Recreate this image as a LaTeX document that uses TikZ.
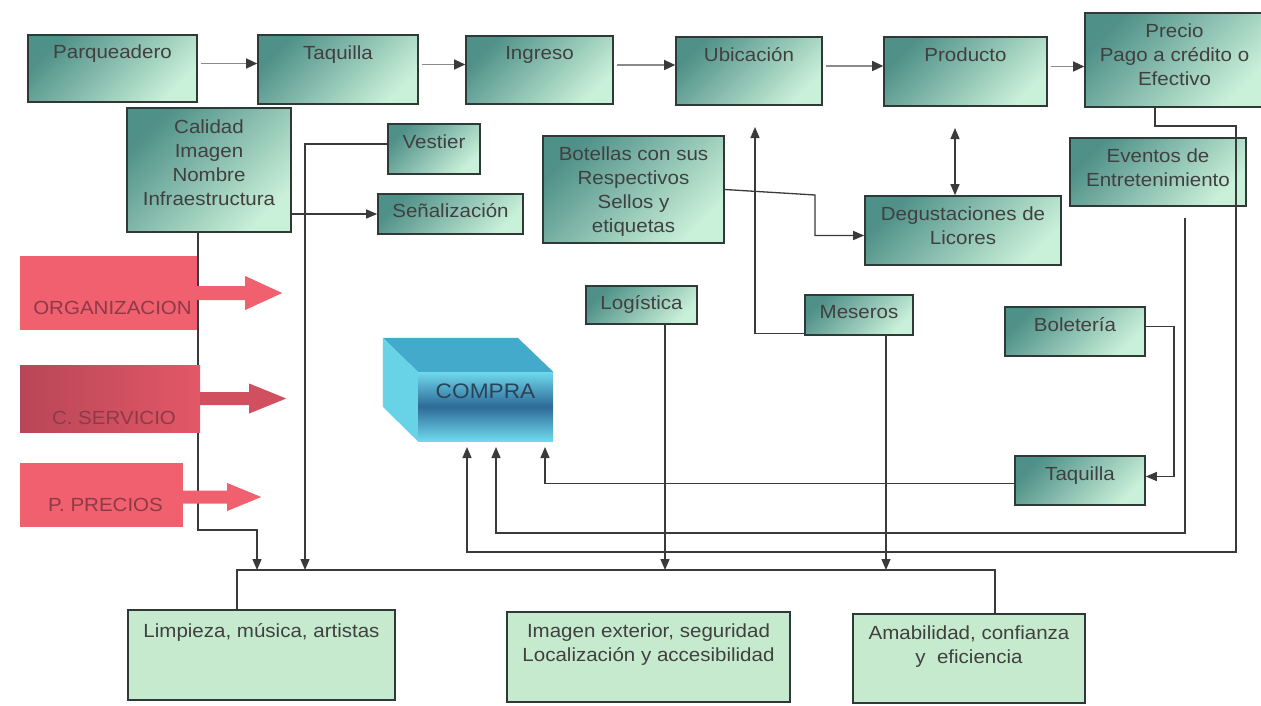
\documentclass[tikz,border=0pt]{standalone}
\usepackage{fontspec}
\setmainfont{Liberation Sans}[FakeStretch=1.08]
\usetikzlibrary{arrows.meta}

\definecolor{gdark}{HTML}{4F9088}
\definecolor{glight}{HTML}{C9F0D9}
\definecolor{gflat}{HTML}{C6EACE}
\definecolor{boxline}{HTML}{2F3A37}
\definecolor{txt}{HTML}{404040}
\definecolor{wire}{HTML}{3A3A3A}
\definecolor{wirelight}{HTML}{8A8A8A}
\definecolor{redA}{HTML}{F0606F}
\definecolor{redB}{HTML}{B84656}
\definecolor{redC}{HTML}{E25868}
\definecolor{redD}{HTML}{D0505F}
\definecolor{redtxt}{HTML}{8E3A46}
\definecolor{cyanL}{HTML}{6FD9EC}
\definecolor{cyanS}{HTML}{68D2E6}
\definecolor{cyanT}{HTML}{43AACB}
\definecolor{blueD}{HTML}{2D6A98}
\definecolor{comptxt}{HTML}{2B4258}

\newcommand\boxfont{\fontsize{19}{24}\selectfont}
\newcommand\comprafont{\fontsize{21}{25}\selectfont}

\begin{document}
\begin{tikzpicture}[x=1pt, y=-1pt,
  gbox/.style={draw=boxline, line width=1.6pt, top color=gdark, bottom color=glight,
    shading angle=45, inner sep=0pt},
  fbox/.style={draw=boxline, line width=1.4pt, fill=gflat, inner sep=0pt},
  boxcap/.style={anchor=north, yshift=-11pt, inner sep=0pt, align=center, font=\boxfont, text=txt},
  redcap/.style={anchor=south, inner sep=0pt, font=\boxfont, text=redtxt},
  con/.style={draw=wire, line width=1.3pt, -{Triangle[length=11pt, width=9pt, color=wire]}},
  dcon/.style={draw=wire, line width=1.3pt,
    {Triangle[length=11pt, width=9pt, color=wire]}-{Triangle[length=11pt, width=9pt, color=wire]}},
  wireplain/.style={draw=wire, line width=1.3pt},
  rowarrow/.style={draw=wirelight, line width=1.3pt, shorten <=3pt,
    -{Triangle[length=11pt, width=10pt, color=wire]}},
  compra/.style={top color=cyanL, bottom color=cyanL, middle color=blueD, inner sep=0pt}
]
\useasboundingbox (0,0) rectangle (1261,705);
\clip (0,0) rectangle (1261,705);
\fill[white] (0,0) rectangle (1261,705);

% bend points and free ends
\coordinate (calx) at (198,530);
\coordinate (a1) at (257,570);
\coordinate (a2) at (305,570);
\coordinate (a3) at (665,570);
\coordinate (a4) at (886,570);
\coordinate (busL) at (237,570);
\coordinate (busR) at (995,570);
\coordinate (mup) at (755,127);
\coordinate (pdn) at (955,128);
\coordinate (b2) at (815,195);
\coordinate (bq) at (1174,400);
\coordinate (ev2) at (1185,533);
\coordinate (pcx) at (1155,126);
\coordinate (pcr) at (1236,126);
\coordinate (pcb) at (1236,552);
\coordinate (cp1) at (467,447);
\coordinate (cp2) at (496,447);
\coordinate (cp3) at (545,447);

% top row
\node[gbox, minimum width=169pt, minimum height=67pt, label={[boxcap, yshift=1pt]north:Parqueadero}] (park) at (112.5,68.5) {};
\node[gbox, minimum width=160pt, minimum height=69pt, label={[boxcap]north:Taquilla}] (taq1) at (338,69.5) {};
\node[gbox, minimum width=147pt, minimum height=68pt, label={[boxcap]north:Ingreso}] (ing) at (539.5,70) {};
\node[gbox, minimum width=146pt, minimum height=68pt, label={[boxcap]north:Ubicación}] (ubi) at (749,71) {};
\node[gbox, minimum width=163pt, minimum height=69pt, label={[boxcap]north:Producto}] (prod) at (965.5,71.5) {};
\node[gbox, minimum width=177pt, minimum height=94pt,
  label={[boxcap, xshift=1pt]north:{Precio\\Pago a crédito o\\Efectivo}}] (pc) at (1173.5,60) {};

% second tier
\node[gbox, minimum width=164pt, minimum height=124pt,
  label={[boxcap, yshift=-1pt]north:{Calidad\\Imagen\\Nombre\\Infraestructura}}] (cal) at (209,170) {};
\node[gbox, minimum width=92pt, minimum height=50pt, label={[boxcap]north:Vestier}] (ves) at (434,149) {};
\node[gbox, minimum width=145pt, minimum height=40pt, label={[boxcap, yshift=1pt]north:Señalización}] (sen) at (450.5,214) {};
\node[gbox, minimum width=181pt, minimum height=107pt,
  label={[boxcap]north:{Botellas con sus\\Respectivos\\Sellos y\\etiquetas}}] (bot) at (633.5,189.5) {};
\node[gbox, minimum width=196pt, minimum height=69pt,
  label={[boxcap]north:{Degustaciones de\\Licores}}] (deg) at (963,230.5) {};
\node[gbox, minimum width=176pt, minimum height=68pt,
  label={[boxcap]north:{Eventos de\\Entretenimiento}}] (eve) at (1158,172) {};
\node[gbox, minimum width=111pt, minimum height=38pt, label={[boxcap, yshift=1pt]north:Logística}] (log) at (641.5,305) {};
\node[gbox, minimum width=108pt, minimum height=40pt, label={[boxcap]north:Meseros}] (mes) at (859,315) {};
\node[gbox, minimum width=140pt, minimum height=49pt, label={[boxcap]north:Boletería}] (bol) at (1075,331.5) {};
\node[gbox, minimum width=130pt, minimum height=49pt, label={[boxcap]north:Taquilla}] (taq2) at (1080,480.5) {};

% bottom row
\node[fbox, minimum width=267pt, minimum height=90pt,
  label={[boxcap, yshift=-3pt]north:{Limpieza, música, artistas}}] (lim) at (261.5,655) {};
\node[fbox, minimum width=283pt, minimum height=90pt,
  label={[boxcap, yshift=-1pt]north:{Imagen exterior, seguridad\\Localización y accesibilidad}}] (img) at (648.5,657) {};
\node[fbox, minimum width=232pt, minimum height=89pt,
  label={[boxcap, yshift=-1pt]north:{Amabilidad, confianza\\y\ \ eficiencia}}] (ama) at (969,658.5) {};

% trunk from Calidad (runs behind the red blocks)
\draw[con] (cal.south -| calx) -- (calx) -| (a1);

% red blocks with their block arrows
\node[fill=redA, inner sep=0pt, minimum width=177pt, minimum height=74pt,
  label={[redcap, yshift=15pt, xshift=4pt]south:ORGANIZACION}] (org) at (108.5,293) {};
\node[left color=redB, right color=redC, inner sep=0pt, minimum width=180pt, minimum height=67pt,
  label={[redcap, yshift=7pt, xshift=4pt]south:C. SERVICIO}] (cs) at (110,398.5) {};
\node[fill=redA, inner sep=0pt, minimum width=163pt, minimum height=64pt,
  label={[redcap, yshift=15pt, xshift=4pt]south:P. PRECIOS}] (pp) at (101.5,495) {};
\fill[redA] (org.east) ++(0,-7) -- ++(48,0) -- ++(0,-10) -- ++(37,17) -- ++(-37,17)
  -- ++(0,-10) -- ++(-48,0) -- cycle;
\fill[redD] (cs.east) ++(0,-6.5) -- ++(49,0) -- ++(0,-8.5) -- ++(37,15) -- ++(-37,15)
  -- ++(0,-8.5) -- ++(-49,0) -- cycle;
\fill[redA] (pp.east) ++(0,-4.5) -- ++(44,0) -- ++(0,-7.5) -- ++(34,14) -- ++(-34,14)
  -- ++(0,-7.5) -- ++(-44,0) -- cycle;

% COMPRA block
\node[compra, minimum width=135pt, minimum height=69pt,
  label={[anchor=north, yshift=-12pt, inner sep=0pt, font=\comprafont, text=comptxt]north:COMPRA}]
  (compra) at (485.5,406.5) {};
\fill[cyanT] (compra.north west) -- ++(-35,-34) -- ++(135,0) -- (compra.north east) -- cycle;
\fill[cyanS] (compra.north west) -- ++(-35,-34) -- ++(0,69) -- (compra.south west) -- cycle;

% main sequence
\draw[rowarrow] ([yshift=5pt]park.east) -- ([yshift=5pt]park.east -| taq1.west);
\draw[rowarrow] ([yshift=5pt]taq1.east) -- ([yshift=5pt]taq1.east -| ing.west);
\draw[rowarrow] ([yshift=5pt]ing.east) -- ([yshift=5pt]ing.east -| ubi.west);
\draw[rowarrow] ([yshift=5pt]ubi.east) -- ([yshift=5pt]ubi.east -| prod.west);
\draw[rowarrow] ([yshift=5pt]prod.east) -- ([yshift=5pt]prod.east -| pc.west);

% connectors
\draw[con] (cal.east |- sen.west) -- (sen.west);
\draw[con] ([yshift=5pt]ves.west) -| (a2);
\draw[con] (bot.east) -- (b2) |- ([yshift=-5pt]deg.west);
\draw[dcon] (pdn) -- (deg.north -| pdn);
\draw[con] ([yshift=2pt]mes.south west) -| (mup);
\draw[con] (mes.south -| a4) -- (a4);
\draw[con] (log.south -| a3) -- (a3);
\draw[con] ([yshift=5pt]bol.east) -| (bq) |- ([yshift=4pt]taq2.east);
\draw[con] ([yshift=-3pt]taq2.west) -| (cp3);
\draw[con, shorten <=11pt] (eve.south -| ev2) -- (ev2) -| (cp2);
\draw[con] (pc.south -| pcx) -- (pcx) -- (pcr) -- (pcb) -| (cp1);

% distribution bus to the bottom row
\draw[wireplain] (lim.north -| busL) -- (busL) -- (busR) -- (ama.north -| busR);
\end{tikzpicture}
\end{document}
